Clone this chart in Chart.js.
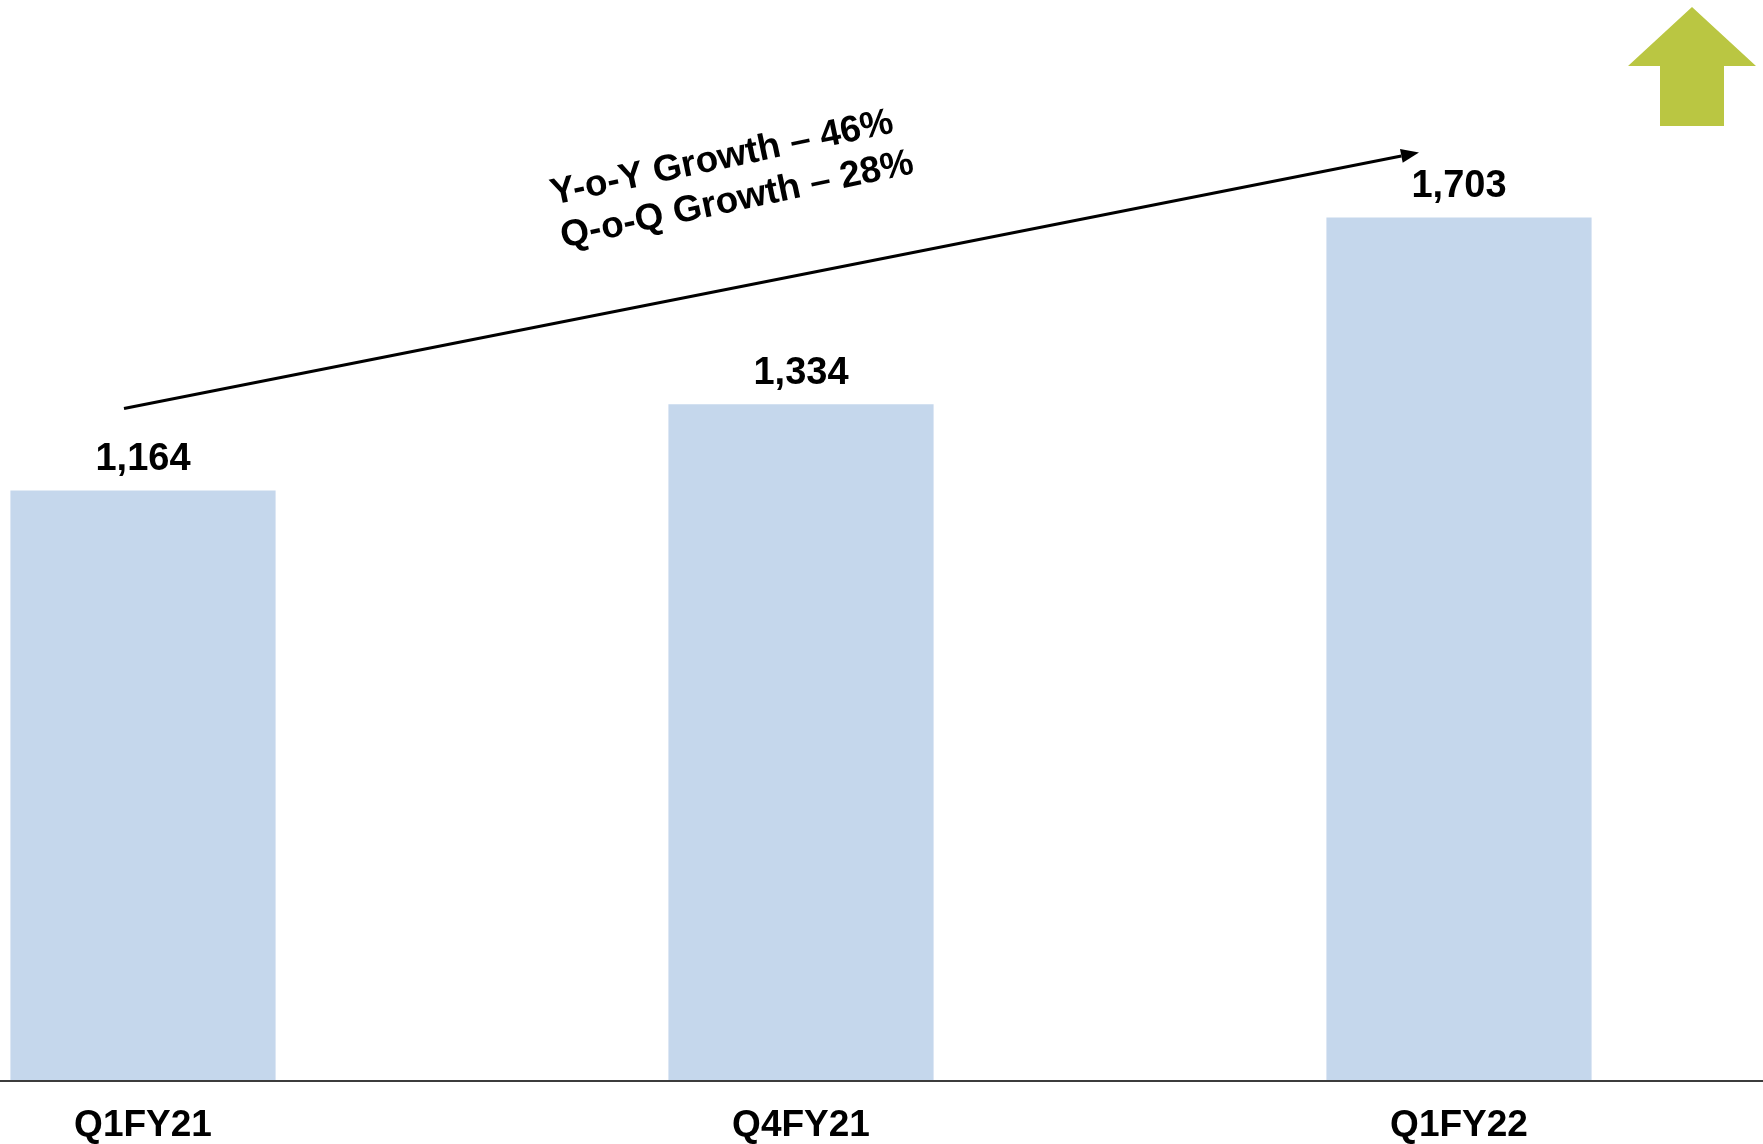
<!DOCTYPE html>
<html>
<head>
<meta charset="utf-8">
<script src="https://cdn.jsdelivr.net/npm/chart.js@4.4.0/dist/chart.umd.min.js"></script>
<style>
  html, body { margin: 0; padding: 0; background: #ffffff; }
  #wrap { position: relative; width: 1763px; height: 1144px; }
</style>
</head>
<body>
<div id="wrap"><canvas id="c" width="1763" height="1144"></canvas></div>
<script>
const categories = ['Q1FY21', 'Q4FY21', 'Q1FY22'];
const values = [1164, 1334, 1703];
const growthLines = ['Y-o-Y Growth \u2013 46%', 'Q-o-Q Growth \u2013 28%'];

const FONT = '"Liberation Sans", Arial, sans-serif';

const decorPlugin = {
  id: 'decor',
  afterDatasetsDraw(chart) {
    const ctx = chart.ctx;
    const xs = chart.scales.x, ys = chart.scales.y;
    const y0 = ys.getPixelForValue(0);
    ctx.save();
    // baseline across full width
    ctx.strokeStyle = '#3c3c3c';
    ctx.lineWidth = 2;
    ctx.beginPath();
    ctx.moveTo(0, y0 + 1);
    ctx.lineTo(chart.width, y0 + 1);
    ctx.stroke();

    // value labels
    const meta = chart.getDatasetMeta(0);
    ctx.fillStyle = '#000000';
    ctx.font = 'bold 38px ' + FONT;
    ctx.textAlign = 'center';
    ctx.textBaseline = 'middle';
    meta.data.forEach((bar, i) => {
      ctx.fillText(values[i].toLocaleString('en-US'), bar.x, bar.y - 31);
    });

    // trend arrow
    const sx = xs.getPixelForValue(0) - 19, sy = ys.getPixelForValue(values[0]) - 82;
    const ex = xs.getPixelForValue(2) - 40, ey = ys.getPixelForValue(values[2]) - 65;
    const ang = Math.atan2(ey - sy, ex - sx);
    const headLen = 18, headW = 7;
    const bx = ex - headLen * Math.cos(ang), by = ey - headLen * Math.sin(ang);
    ctx.strokeStyle = '#000000';
    ctx.lineWidth = 3;
    ctx.beginPath();
    ctx.moveTo(sx, sy);
    ctx.lineTo(bx, by);
    ctx.stroke();
    ctx.beginPath();
    ctx.moveTo(ex, ey);
    ctx.lineTo(bx + headW * Math.sin(ang), by - headW * Math.cos(ang));
    ctx.lineTo(bx - headW * Math.sin(ang), by + headW * Math.cos(ang));
    ctx.closePath();
    ctx.fill();

    // growth text
    const cx = (sx + ex) / 2 - 42, cy = (sy + ey) / 2 - 101;
    ctx.translate(cx, cy);
    ctx.rotate(-12 * Math.PI / 180);
    ctx.font = 'bold 37px ' + FONT;
    ctx.fillText(growthLines[0], -3, -22);
    ctx.fillText(growthLines[1], 3, 22);
    ctx.restore();

    // green up arrow (top right)
    ctx.save();
    const R = chart.width;
    ctx.fillStyle = '#bac642';
    ctx.beginPath();
    ctx.moveTo(R - 71, 7);
    ctx.lineTo(R - 7, 66);
    ctx.lineTo(R - 39, 66);
    ctx.lineTo(R - 39, 126);
    ctx.lineTo(R - 103, 126);
    ctx.lineTo(R - 103, 66);
    ctx.lineTo(R - 135, 66);
    ctx.closePath();
    ctx.fill();
    ctx.restore();
  }
};

new Chart(document.getElementById('c'), {
  type: 'bar',
  data: {
    labels: categories,
    datasets: [{
      data: values,
      backgroundColor: '#c5d7ec',
      borderWidth: 0,
      barPercentage: 0.403,
      categoryPercentage: 1.0,
      clip: false
    }]
  },
  options: {
    responsive: false,
    devicePixelRatio: 1,
    animation: false,
    layout: { padding: { left: 143, right: 304, top: 67, bottom: 0 } },
    plugins: { legend: { display: false }, tooltip: { enabled: false } },
    scales: {
      x: {
        offset: false,
        grid: { display: false },
        border: { display: false },
        ticks: {
          color: '#000000',
          font: { family: FONT, size: 37, weight: 'bold' },
          padding: 16,
          maxRotation: 0,
          autoSkip: false
        },
        afterFit(scale) { scale.height = 64; }
      },
      y: {
        display: false,
        min: 0,
        max: 2000
      }
    }
  },
  plugins: [decorPlugin]
});
</script>
</body>
</html>
